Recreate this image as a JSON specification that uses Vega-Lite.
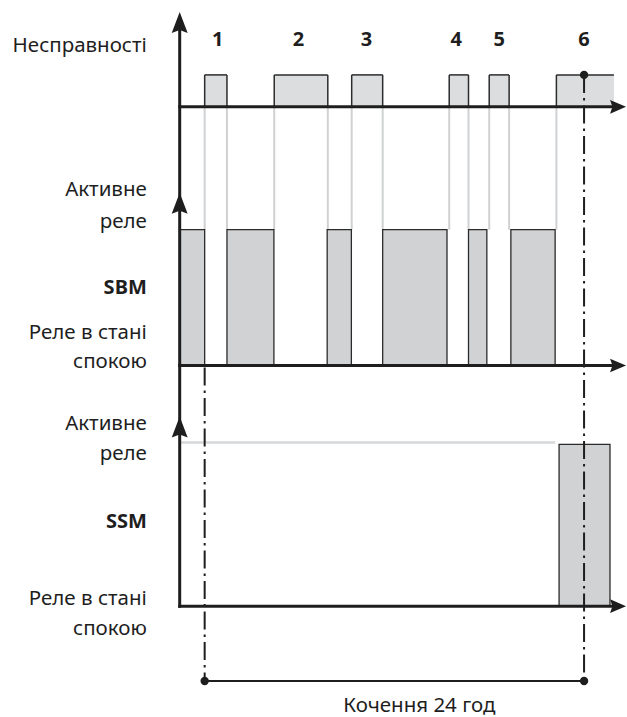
{
  "$schema": "https://vega.github.io/schema/vega-lite/v6.json",
  "width": 627,
  "height": 717,
  "autosize": {"type": "fit", "contains": "padding"},
  "padding": 0,
  "background": "white",
  "config": {"view": {"stroke": null}},
  "data": {"values": [{}]},
  "datasets": {
    "faults": [
      {"id": "1", "start": 0, "end": 1.41, "closed": true},
      {"id": "2", "start": 4.4, "end": 7.79, "closed": true},
      {"id": "3", "start": 9.3, "end": 11.26, "closed": true},
      {"id": "4", "start": 15.47, "end": 16.69, "closed": true},
      {"id": "5", "start": 18.0, "end": 19.26, "closed": true},
      {"id": "6", "start": 22.25, "end": 25.89, "closed": false}
    ],
    "sbm": [
      {"start": -1.58, "end": 0},
      {"start": 1.41, "end": 4.38},
      {"start": 7.75, "end": 9.28},
      {"start": 11.26, "end": 15.33},
      {"start": 16.69, "end": 17.85},
      {"start": 19.37, "end": 22.17}
    ],
    "ssm": [{"start": 22.42, "end": 25.64}],
    "faultLabels": [
      {"id": "1", "t": 0.82},
      {"id": "2", "t": 5.94},
      {"id": "3", "t": 10.23},
      {"id": "4", "t": 15.92},
      {"id": "5", "t": 18.63},
      {"id": "6", "t": 24.0}
    ],
    "sideLabels": [
      {"text": "Несправності", "level": 46, "bold": false},
      {"text": "Активне", "level": 190, "bold": false},
      {"text": "реле", "level": 222, "bold": false},
      {"text": "SBM", "level": 288, "bold": true},
      {"text": "Реле в стані", "level": 333, "bold": false},
      {"text": "спокою", "level": 363, "bold": false},
      {"text": "Активне", "level": 425, "bold": false},
      {"text": "реле", "level": 455, "bold": false},
      {"text": "SSM", "level": 523, "bold": true},
      {"text": "Реле в стані", "level": 600, "bold": false},
      {"text": "спокою", "level": 630, "bold": false}
    ]
  },
  "layer": [
    {
      "data": {"name": "faults"},
      "transform": [
        {"fold": ["start", "end"], "as": ["edge", "t"]},
        {"filter": "datum.closed || datum.edge == 'start'"}
      ],
      "mark": {"type": "rule", "color": "#cfd1d3", "strokeWidth": 2},
      "encoding": {
        "x": {"field": "t", "type": "quantitative", "scale": {"domain": [-12.947, 26.653], "nice": false, "zero": false}, "axis": null},
        "y": {"datum": 107, "type": "quantitative", "scale": {"domain": [0, 717], "reverse": true, "nice": false, "zero": false}, "axis": null},
        "y2": {"datum": 230}
      }
    },
    {
      "mark": {"type": "rule", "color": "#d6d7d8", "strokeWidth": 2.5},
      "encoding": {
        "x": {"datum": -1.58, "type": "quantitative", "scale": {"domain": [-12.947, 26.653], "nice": false, "zero": false}, "axis": null},
        "x2": {"datum": 22.17},
        "y": {"datum": 443, "type": "quantitative", "scale": {"domain": [0, 717], "reverse": true, "nice": false, "zero": false}, "axis": null}
      }
    },
    {
      "data": {"name": "faults"},
      "mark": {"type": "rect", "fill": "#dcddde"},
      "encoding": {
        "x": {"field": "start", "type": "quantitative", "scale": {"domain": [-12.947, 26.653], "nice": false, "zero": false}, "axis": null},
        "x2": {"field": "end"},
        "y": {"datum": 75, "type": "quantitative", "scale": {"domain": [0, 717], "reverse": true, "nice": false, "zero": false}, "axis": null},
        "y2": {"datum": 107}
      }
    },
    {
      "data": {"name": "faults"},
      "mark": {"type": "rule", "color": "#2b2b2b", "strokeWidth": 1.5},
      "encoding": {
        "x": {"field": "start", "type": "quantitative", "scale": {"domain": [-12.947, 26.653], "nice": false, "zero": false}, "axis": null},
        "y": {"datum": 75, "type": "quantitative", "scale": {"domain": [0, 717], "reverse": true, "nice": false, "zero": false}, "axis": null},
        "y2": {"datum": 107}
      }
    },
    {
      "data": {"name": "faults"},
      "mark": {"type": "rule", "color": "#2b2b2b", "strokeWidth": 1.5},
      "encoding": {
        "x": {"field": "start", "type": "quantitative", "scale": {"domain": [-12.947, 26.653], "nice": false, "zero": false}, "axis": null},
        "x2": {"field": "end"},
        "y": {"datum": 75, "type": "quantitative", "scale": {"domain": [0, 717], "reverse": true, "nice": false, "zero": false}, "axis": null}
      }
    },
    {
      "data": {"name": "faults"},
      "transform": [{"filter": "datum.closed"}],
      "mark": {"type": "rule", "color": "#2b2b2b", "strokeWidth": 1.5},
      "encoding": {
        "x": {"field": "end", "type": "quantitative", "scale": {"domain": [-12.947, 26.653], "nice": false, "zero": false}, "axis": null},
        "y": {"datum": 75, "type": "quantitative", "scale": {"domain": [0, 717], "reverse": true, "nice": false, "zero": false}, "axis": null},
        "y2": {"datum": 107}
      }
    },
    {
      "data": {"name": "sbm"},
      "mark": {"type": "rect", "fill": "#d1d2d4", "stroke": "#2b2b2b", "strokeWidth": 1.3},
      "encoding": {
        "x": {"field": "start", "type": "quantitative", "scale": {"domain": [-12.947, 26.653], "nice": false, "zero": false}, "axis": null},
        "x2": {"field": "end"},
        "y": {"datum": 230, "type": "quantitative", "scale": {"domain": [0, 717], "reverse": true, "nice": false, "zero": false}, "axis": null},
        "y2": {"datum": 366}
      }
    },
    {
      "data": {"name": "ssm"},
      "mark": {"type": "rect", "fill": "#d1d2d4", "stroke": "#2b2b2b", "strokeWidth": 1.3},
      "encoding": {
        "x": {"field": "start", "type": "quantitative", "scale": {"domain": [-12.947, 26.653], "nice": false, "zero": false}, "axis": null},
        "x2": {"field": "end"},
        "y": {"datum": 445, "type": "quantitative", "scale": {"domain": [0, 717], "reverse": true, "nice": false, "zero": false}, "axis": null},
        "y2": {"datum": 607}
      }
    },
    {
      "mark": {"type": "rule", "color": "#1e1e1e", "strokeWidth": 2, "strokeDash": [18, 5, 2.5, 5]},
      "encoding": {
        "x": {"datum": 0, "type": "quantitative", "scale": {"domain": [-12.947, 26.653], "nice": false, "zero": false}, "axis": null},
        "y": {"datum": 368, "type": "quantitative", "scale": {"domain": [0, 717], "reverse": true, "nice": false, "zero": false}, "axis": null},
        "y2": {"datum": 682}
      }
    },
    {
      "mark": {"type": "rule", "color": "#1e1e1e", "strokeWidth": 2, "strokeDash": [18, 5, 2.5, 5]},
      "encoding": {
        "x": {"datum": 24, "type": "quantitative", "scale": {"domain": [-12.947, 26.653], "nice": false, "zero": false}, "axis": null},
        "y": {"datum": 75, "type": "quantitative", "scale": {"domain": [0, 717], "reverse": true, "nice": false, "zero": false}, "axis": null},
        "y2": {"datum": 682}
      }
    },
    {
      "mark": {"type": "rule", "color": "#1e1e1e", "strokeWidth": 2},
      "encoding": {
        "x": {"datum": 0, "type": "quantitative", "scale": {"domain": [-12.947, 26.653], "nice": false, "zero": false}, "axis": null},
        "x2": {"datum": 24},
        "y": {"datum": 682, "type": "quantitative", "scale": {"domain": [0, 717], "reverse": true, "nice": false, "zero": false}, "axis": null}
      }
    },
    {
      "mark": {"type": "rule", "color": "#1e1e1e", "strokeWidth": 3},
      "encoding": {
        "x": {"datum": -1.58, "type": "quantitative", "scale": {"domain": [-12.947, 26.653], "nice": false, "zero": false}, "axis": null},
        "y": {"datum": 22, "type": "quantitative", "scale": {"domain": [0, 717], "reverse": true, "nice": false, "zero": false}, "axis": null},
        "y2": {"datum": 608.5}
      }
    },
    {
      "mark": {"type": "rule", "color": "#1e1e1e", "strokeWidth": 3},
      "encoding": {
        "x": {"datum": -1.675, "type": "quantitative", "scale": {"domain": [-12.947, 26.653], "nice": false, "zero": false}, "axis": null},
        "x2": {"datum": 26.0},
        "y": {"datum": 107, "type": "quantitative", "scale": {"domain": [0, 717], "reverse": true, "nice": false, "zero": false}, "axis": null}
      }
    },
    {
      "mark": {"type": "rule", "color": "#1e1e1e", "strokeWidth": 3},
      "encoding": {
        "x": {"datum": -1.675, "type": "quantitative", "scale": {"domain": [-12.947, 26.653], "nice": false, "zero": false}, "axis": null},
        "x2": {"datum": 26.0},
        "y": {"datum": 366, "type": "quantitative", "scale": {"domain": [0, 717], "reverse": true, "nice": false, "zero": false}, "axis": null}
      }
    },
    {
      "mark": {"type": "rule", "color": "#1e1e1e", "strokeWidth": 3},
      "encoding": {
        "x": {"datum": -1.675, "type": "quantitative", "scale": {"domain": [-12.947, 26.653], "nice": false, "zero": false}, "axis": null},
        "x2": {"datum": 26.0},
        "y": {"datum": 607, "type": "quantitative", "scale": {"domain": [0, 717], "reverse": true, "nice": false, "zero": false}, "axis": null}
      }
    },
    {
      "mark": {"type": "point", "shape": "M0,-1L0.76,1L0,0.72L-0.76,1Z", "filled": true, "color": "#1e1e1e", "opacity": 1, "size": 441},
      "encoding": {
        "x": {"datum": -1.58, "type": "quantitative", "scale": {"domain": [-12.947, 26.653], "nice": false, "zero": false}, "axis": null},
        "y": {"datum": 22.5, "type": "quantitative", "scale": {"domain": [0, 717], "reverse": true, "nice": false, "zero": false}, "axis": null}
      }
    },
    {
      "mark": {"type": "point", "shape": "M0,-1L0.76,1L0,0.72L-0.76,1Z", "filled": true, "color": "#1e1e1e", "opacity": 1, "size": 441},
      "encoding": {
        "x": {"datum": -1.58, "type": "quantitative", "scale": {"domain": [-12.947, 26.653], "nice": false, "zero": false}, "axis": null},
        "y": {"datum": 203.5, "type": "quantitative", "scale": {"domain": [0, 717], "reverse": true, "nice": false, "zero": false}, "axis": null}
      }
    },
    {
      "mark": {"type": "point", "shape": "M0,-1L0.76,1L0,0.72L-0.76,1Z", "filled": true, "color": "#1e1e1e", "opacity": 1, "size": 441},
      "encoding": {
        "x": {"datum": -1.58, "type": "quantitative", "scale": {"domain": [-12.947, 26.653], "nice": false, "zero": false}, "axis": null},
        "y": {"datum": 427.5, "type": "quantitative", "scale": {"domain": [0, 717], "reverse": true, "nice": false, "zero": false}, "axis": null}
      }
    },
    {
      "mark": {"type": "point", "shape": "M1,0L-1,-0.85L-0.7,0L-1,0.85Z", "filled": true, "color": "#1e1e1e", "opacity": 1, "size": 256},
      "encoding": {
        "x": {"datum": 26.15, "type": "quantitative", "scale": {"domain": [-12.947, 26.653], "nice": false, "zero": false}, "axis": null},
        "y": {"datum": 107, "type": "quantitative", "scale": {"domain": [0, 717], "reverse": true, "nice": false, "zero": false}, "axis": null}
      }
    },
    {
      "mark": {"type": "point", "shape": "M1,0L-1,-0.85L-0.7,0L-1,0.85Z", "filled": true, "color": "#1e1e1e", "opacity": 1, "size": 256},
      "encoding": {
        "x": {"datum": 26.15, "type": "quantitative", "scale": {"domain": [-12.947, 26.653], "nice": false, "zero": false}, "axis": null},
        "y": {"datum": 366, "type": "quantitative", "scale": {"domain": [0, 717], "reverse": true, "nice": false, "zero": false}, "axis": null}
      }
    },
    {
      "mark": {"type": "point", "shape": "M1,0L-1,-0.85L-0.7,0L-1,0.85Z", "filled": true, "color": "#1e1e1e", "opacity": 1, "size": 256},
      "encoding": {
        "x": {"datum": 26.15, "type": "quantitative", "scale": {"domain": [-12.947, 26.653], "nice": false, "zero": false}, "axis": null},
        "y": {"datum": 607, "type": "quantitative", "scale": {"domain": [0, 717], "reverse": true, "nice": false, "zero": false}, "axis": null}
      }
    },
    {
      "mark": {"type": "point", "shape": "circle", "filled": true, "color": "#1e1e1e", "opacity": 1, "size": 70},
      "encoding": {
        "x": {"datum": 0, "type": "quantitative", "scale": {"domain": [-12.947, 26.653], "nice": false, "zero": false}, "axis": null},
        "y": {"datum": 682, "type": "quantitative", "scale": {"domain": [0, 717], "reverse": true, "nice": false, "zero": false}, "axis": null}
      }
    },
    {
      "mark": {"type": "point", "shape": "circle", "filled": true, "color": "#1e1e1e", "opacity": 1, "size": 70},
      "encoding": {
        "x": {"datum": 24, "type": "quantitative", "scale": {"domain": [-12.947, 26.653], "nice": false, "zero": false}, "axis": null},
        "y": {"datum": 682, "type": "quantitative", "scale": {"domain": [0, 717], "reverse": true, "nice": false, "zero": false}, "axis": null}
      }
    },
    {
      "mark": {"type": "point", "shape": "circle", "filled": true, "color": "#1e1e1e", "opacity": 1, "size": 70},
      "encoding": {
        "x": {"datum": 24, "type": "quantitative", "scale": {"domain": [-12.947, 26.653], "nice": false, "zero": false}, "axis": null},
        "y": {"datum": 75, "type": "quantitative", "scale": {"domain": [0, 717], "reverse": true, "nice": false, "zero": false}, "axis": null}
      }
    },
    {
      "data": {"name": "faultLabels"},
      "mark": {"type": "text", "font": "Noto Sans", "fontWeight": "bold", "fontSize": 20, "color": "#1e1e1e", "align": "center", "baseline": "middle"},
      "encoding": {
        "x": {"field": "t", "type": "quantitative", "scale": {"domain": [-12.947, 26.653], "nice": false, "zero": false}, "axis": null},
        "y": {"datum": 40, "type": "quantitative", "scale": {"domain": [0, 717], "reverse": true, "nice": false, "zero": false}, "axis": null},
        "text": {"field": "id"}
      }
    },
    {
      "data": {"name": "sideLabels"},
      "transform": [{"filter": "!datum.bold"}],
      "mark": {"type": "text", "font": "Noto Sans", "fontSize": 20.5, "color": "#1e1e1e", "align": "right", "baseline": "middle"},
      "encoding": {
        "x": {"datum": -3.66, "type": "quantitative", "scale": {"domain": [-12.947, 26.653], "nice": false, "zero": false}, "axis": null},
        "y": {"field": "level", "type": "quantitative", "scale": {"domain": [0, 717], "reverse": true, "nice": false, "zero": false}, "axis": null},
        "text": {"field": "text"}
      }
    },
    {
      "data": {"name": "sideLabels"},
      "transform": [{"filter": "datum.bold"}],
      "mark": {"type": "text", "font": "Noto Sans", "fontWeight": "bold", "fontSize": 20, "color": "#1e1e1e", "align": "right", "baseline": "middle"},
      "encoding": {
        "x": {"datum": -3.66, "type": "quantitative", "scale": {"domain": [-12.947, 26.653], "nice": false, "zero": false}, "axis": null},
        "y": {"field": "level", "type": "quantitative", "scale": {"domain": [0, 717], "reverse": true, "nice": false, "zero": false}, "axis": null},
        "text": {"field": "text"}
      }
    },
    {
      "mark": {"type": "text", "font": "Noto Sans", "fontSize": 20.5, "color": "#1e1e1e", "align": "center", "baseline": "middle", "text": "Кочення 24 год"},
      "encoding": {
        "x": {"datum": 13.58, "type": "quantitative", "scale": {"domain": [-12.947, 26.653], "nice": false, "zero": false}, "axis": null},
        "y": {"datum": 707, "type": "quantitative", "scale": {"domain": [0, 717], "reverse": true, "nice": false, "zero": false}, "axis": null}
      }
    }
  ]
}
